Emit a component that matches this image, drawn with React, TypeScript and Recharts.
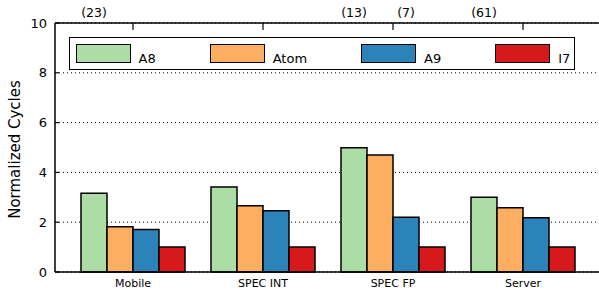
import React from 'react';
import { BarChart, Bar, XAxis, YAxis, CartesianGrid, Legend, LabelList } from 'recharts';

const categories = ['Mobile', 'SPEC INT', 'SPEC FP', 'Server'];
const a8 = [3.16, 3.41, 4.99, 3.0];
const atom = [1.82, 2.66, 4.7, 2.58];
const a9 = [1.71, 2.46, 2.2, 2.18];
const i7 = [1, 1, 1, 1];
const a8Notes = ['(23)', '', '(13)', '(61)'];
const a9Notes = ['', '', '(7)', ''];
const yTicks = [0, 2, 4, 6, 8, 10];
const seriesOrder = ['A8', 'Atom', 'A9', 'I7'];

const data = categories.map((c, i) => ({
  name: c,
  a8: a8[i],
  atom: atom[i],
  a9: a9[i],
  i7: i7[i],
  a8Note: a8Notes[i],
  a9Note: a9Notes[i],
}));

const FONT = '"DejaVu Sans", sans-serif';

const NoteLabel = (props: any) => {
  const { x, width, value } = props;
  if (!value) return null;
  return (
    <text x={x + width / 2} y={17} textAnchor="middle" fontSize={12.5} fontFamily={FONT} fill="#000">
      {value}
    </text>
  );
};

const EmptyTick = () => <g />;

const YTick = (props: any) => {
  const { x, y, payload } = props;
  return (
    <g>
      <text x={x} y={y} dy="0.35em" textAnchor="end" fontSize={13} fontFamily={FONT} fill="#000">
        {payload.value}
      </text>
      <line x1={x + 8} x2={x + 12} y1={y} y2={y} stroke="#000" strokeWidth={1.2} />
    </g>
  );
};

const YLabel = (props: any) => {
  const vb = props.viewBox || { x: 0, y: 0, width: 0, height: 0 };
  const cx = vb.x + 15;
  const cy = vb.y + vb.height / 2 + 2;
  return (
    <text
      x={cx}
      y={cy}
      transform={`rotate(-90 ${cx} ${cy})`}
      textAnchor="middle"
      dominantBaseline="central"
      fontSize={15}
      fontFamily={FONT}
      fill="#000"
    >
      Normalized Cycles
    </text>
  );
};

const renderLegend = (props: any) => {
  const payload = [...(props.payload || [])].sort(
    (a: any, b: any) => seriesOrder.indexOf(a.value) - seriesOrder.indexOf(b.value)
  );
  return (
    <div
      style={{
        width: 506,
        height: 33,
        border: '1.5px solid #000',
        boxSizing: 'border-box',
        background: '#fff',
        display: 'flex',
        alignItems: 'flex-start',
        paddingLeft: 5.5,
        paddingTop: 5.5,
        fontFamily: FONT,
      }}
    >
      {payload.map((p: any) => (
        <div key={p.value} style={{ display: 'flex', alignItems: 'flex-end', marginRight: 54 }}>
          <div
            style={{
              width: 55,
              height: 19,
              background: p.color,
              border: '1.5px solid #000',
              boxSizing: 'border-box',
            }}
          />
          <span style={{ marginLeft: 8, fontSize: 13, lineHeight: '13px', marginBottom: -2, color: '#000' }}>
            {p.value}
          </span>
        </div>
      ))}
    </div>
  );
};

export default function App() {
  return (
    <div style={{ position: 'absolute', left: 0, top: 0, width: 599, height: 291, overflow: 'hidden', background: '#fff' }}>
      <BarChart
        width={602}
        height={291}
        data={data}
        margin={{ top: 23, right: 1, bottom: 0, left: 0 }}
        barCategoryGap={13}
        barGap={0}
      >
        <CartesianGrid horizontal vertical={false} stroke="#000" strokeDasharray="1 3" strokeWidth={1} />
        <XAxis
          dataKey="name"
          height={19}
          padding={{ left: 13, right: 13 }}
          tickLine={false}
          tickSize={0}
          tickMargin={7}
          axisLine={{ stroke: '#000', strokeWidth: 1.5 }}
          tick={{ fontSize: 11, fontFamily: FONT, fill: '#000' }}
        />
        <XAxis
          xAxisId="top"
          dataKey="name"
          orientation="top"
          mirror
          padding={{ left: 13, right: 13 }}
          tick={<EmptyTick />}
          tickSize={7}
          tickLine={{ stroke: '#000', strokeWidth: 1.2 }}
          axisLine={{ stroke: '#000', strokeWidth: 1.5 }}
        />
        <YAxis
          width={55}
          domain={[0, 10]}
          ticks={yTicks}
          tickLine={false}
          tickSize={0}
          tickMargin={8}
          axisLine={{ stroke: '#000', strokeWidth: 1.5 }}
          tick={<YTick />}
          label={<YLabel />}
        />
        <Legend
          layout="vertical"
          align="center"
          verticalAlign="middle"
          content={renderLegend}
          wrapperStyle={{ position: 'absolute', left: 69, top: 37, width: 506, height: 33 }}
        />
        <Bar dataKey="a8" name="A8" fill="#abdda4" stroke="#000" strokeWidth={1.5} isAnimationActive={false}>
          <LabelList dataKey="a8Note" content={<NoteLabel />} />
        </Bar>
        <Bar dataKey="atom" name="Atom" fill="#fdae61" stroke="#000" strokeWidth={1.5} isAnimationActive={false} />
        <Bar dataKey="a9" name="A9" fill="#2b83ba" stroke="#000" strokeWidth={1.5} isAnimationActive={false}>
          <LabelList dataKey="a9Note" content={<NoteLabel />} />
        </Bar>
        <Bar dataKey="i7" name="I7" fill="#d7191c" stroke="#000" strokeWidth={1.5} isAnimationActive={false} />
      </BarChart>
    </div>
  );
}
